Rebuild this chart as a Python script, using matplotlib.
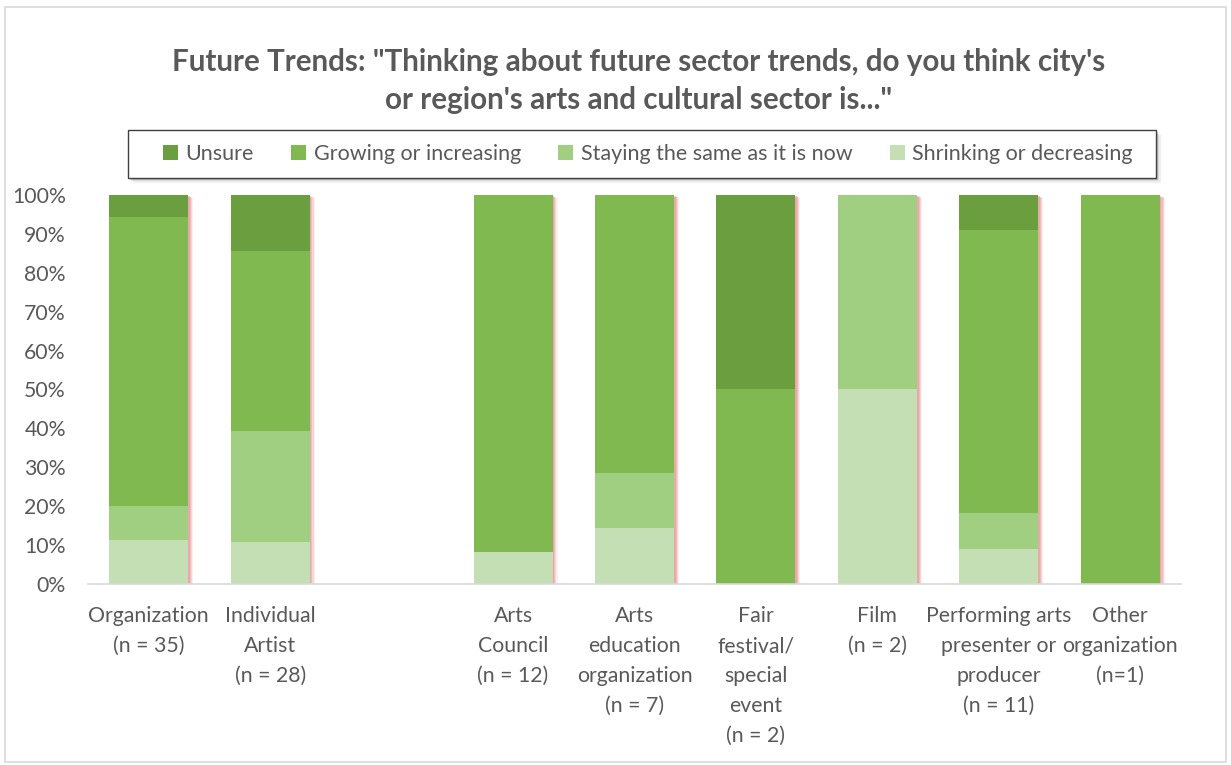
import numpy as np
import matplotlib
matplotlib.use("Agg")
import matplotlib.pyplot as plt
import matplotlib.patheffects as pe
from matplotlib.patches import Rectangle

plt.rcParams["font.family"] = ["Lato", "DejaVu Sans"]

# survey groups; the empty label leaves a gap between the two sets of bars
categories = ["Organization\n(n = 35)", "Individual\nArtist\n(n = 28)", "",
              "Arts\nCouncil\n(n = 12)", "Arts\neducation\norganization\n(n = 7)",
              "Fair\nfestival/\nspecial\nevent\n(n = 2)", "Film\n(n = 2)",
              "Performing arts\npresenter or\nproducer\n(n = 11)", "Other\norganization\n(n=1)"]

# shares per group, bottom to top of each stack
shrinking = [0.114, 0.107, 0.0, 0.083, 0.143, 0.0, 0.50, 0.091, 0.0]
staying   = [0.086, 0.286, 0.0, 0.0,   0.143, 0.0, 0.50, 0.091, 0.0]
growing   = [0.743, 0.464, 0.0, 0.917, 0.714, 0.50, 0.0, 0.727, 1.0]
unsure    = [0.057, 0.143, 0.0, 0.0,   0.0,   0.50, 0.0, 0.091, 0.0]

series = [
    ("Shrinking or decreasing", shrinking, "#c5dfb5"),
    ("Staying the same as it is now", staying, "#a0cf81"),
    ("Growing or increasing", growing, "#80b94f"),
    ("Unsure", unsure, "#6a9e3f"),
]

TEXT = "#595959"

fig = plt.figure(figsize=(12.31, 7.65), dpi=100)
fig.patches.append(Rectangle((0.004, 0.004), 0.992, 0.987, transform=fig.transFigure,
                             fill=False, edgecolor="#d9d9d9", linewidth=1.2))
ax = fig.add_axes([0.0715, 0.2366, 0.8879, 0.5085])

x = np.arange(len(categories))
bottom = np.zeros(len(categories))
handles = {}
for name, vals, color in series:
    vals = np.array(vals)
    bars = ax.bar(x, vals, 0.65, bottom=bottom, color=color, linewidth=0, zorder=3)
    handles[name] = bars
    bottom += vals

# soft pink shadow behind each full stack, built from a few faint layers
shadow = [pe.SimplePatchShadow(offset=(o, -o * 0.6), shadow_rgbFace="#e58f8f", alpha=a)
          for o, a in [(3.6, 0.15), (2.8, 0.25), (2.0, 0.35), (1.2, 0.45)]] + [pe.Normal()]
for xi, total in zip(x, bottom):
    if total > 0:
        p = Rectangle((xi - 0.325, 0), 0.65, total, facecolor="white", edgecolor="none",
                      zorder=2, path_effects=shadow)
        ax.add_patch(p)

ax.set_xlim(-0.5, len(categories) - 0.5)
ax.set_ylim(0, 1)
ax.set_yticks(np.linspace(0, 1, 11))
ax.set_yticklabels([f"{int(round(v * 100))}%" for v in np.linspace(0, 1, 11)])
ax.set_xticks(x)
ax.set_xticklabels(categories, linespacing=1.62)
ax.tick_params(axis="both", length=0, labelsize=15.3, labelcolor=TEXT)
ax.tick_params(axis="y", pad=16)
ax.tick_params(axis="x", pad=16)
for side in ["top", "right", "left"]:
    ax.spines[side].set_visible(False)
ax.spines["bottom"].set_color("#d9d9d9")
ax.spines["bottom"].set_linewidth(1.2)
ax.spines["bottom"].set_zorder(4)

fig.text(0.519, 0.894, "Future Trends: \"Thinking about future sector trends, do you think city's\n"
         "or region's arts and cultural sector is...\"", ha="center", va="center",
         fontsize=21.3, fontweight="bold", color=TEXT, linespacing=1.4)

# legend frame drawn by hand so it can be wider than its entries
frame_shadow = [pe.SimplePatchShadow(offset=(o, -o), shadow_rgbFace="#808080", alpha=a)
                for o, a in [(3.5, 0.12), (2.5, 0.2), (1.5, 0.3)]] + [pe.Normal()]
fig.patches.append(Rectangle((0.104, 0.7673), 0.835, 0.0627, transform=fig.transFigure,
                             facecolor="white", edgecolor="#404040", linewidth=1.0,
                             path_effects=frame_shadow))

order = ["Unsure", "Growing or increasing", "Staying the same as it is now",
         "Shrinking or decreasing"]
leg = fig.legend([handles[n] for n in order], order, ncol=4, loc="center",
                 bbox_to_anchor=(0.5264, 0.7987), fontsize=15.5, frameon=False,
                 handlelength=0.7, handleheight=0.7, handletextpad=0.35,
                 columnspacing=1.73, borderpad=0.2, labelcolor=TEXT)

fig.savefig("out.png", dpi=100)
